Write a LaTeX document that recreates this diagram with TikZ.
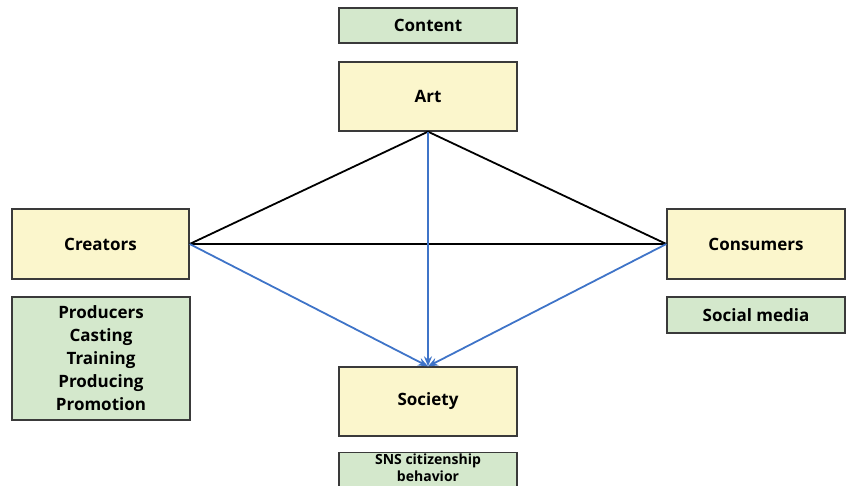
\documentclass[tikz,border=0pt]{standalone}
\usepackage{fontspec}
\setmainfont{Open Sans}
\usetikzlibrary{arrows.meta}
\definecolor{boxyellow}{HTML}{FBF6CC}
\definecolor{boxgreen}{HTML}{D4E8CC}
\definecolor{boxline}{HTML}{3A3A3A}
\definecolor{linkblue}{HTML}{3F74C8}
\tikzset{
  ybox/.style={draw=boxline, line width=1.3pt, fill=boxyellow, inner sep=0pt,
    font=\fontsize{17}{22}\selectfont\bfseries},
  gbox/.style={draw=boxline, line width=1.3pt, fill=boxgreen, inner sep=0pt,
    font=\fontsize{17}{23}\selectfont\bfseries, align=center},
  blk/.style={line width=1.8pt, black},
  blu/.style={line width=1.8pt, linkblue, -{Stealth[length=10pt,width=8pt]}},
}
\begin{document}
\begin{tikzpicture}[x=1pt,y=-1pt]
\useasboundingbox (0,0) rectangle (848,486);
\clip (0,0) rectangle (848,486);
\node[gbox, minimum width=178pt, minimum height=35pt] (content) at (428,25.5) {Content};
\node[ybox, minimum width=178pt, minimum height=69pt] (art) at (428,96.5) {Art};
\node[ybox, minimum width=177pt, minimum height=70pt] (creators) at (100.5,244) {Creators};
\node[gbox, minimum width=178pt, minimum height=123pt] (producers) at (101,358.5) {Producers\\Casting\\Training\\Producing\\Promotion};
\node[ybox, minimum width=178pt, minimum height=70pt] (consumers) at (756,244) {Consumers};
\node[gbox, minimum width=178pt, minimum height=36pt] (social) at (756,315) {Social media};
\node[ybox, minimum width=178pt, minimum height=69pt] (society) at (428,401.5) {Society};
\node[gbox, minimum width=178pt, minimum height=50pt, anchor=north] (sns) at (428,452) {};
\node[font=\fontsize{14}{17}\selectfont\bfseries, align=center, anchor=north, inner sep=0pt] (snstext) at (428,454) {SNS citizenship\\behavior};
\draw[blk] (art.south) -- (creators.east);
\draw[blk] (art.south) -- (consumers.west);
\draw[blk] (creators.east) -- (consumers.west);
\draw[blu] (creators.east) -- (society.north);
\draw[blu] (art.south) -- (society.north);
\draw[blu] (consumers.west) -- (society.north);
\end{tikzpicture}
\end{document}
